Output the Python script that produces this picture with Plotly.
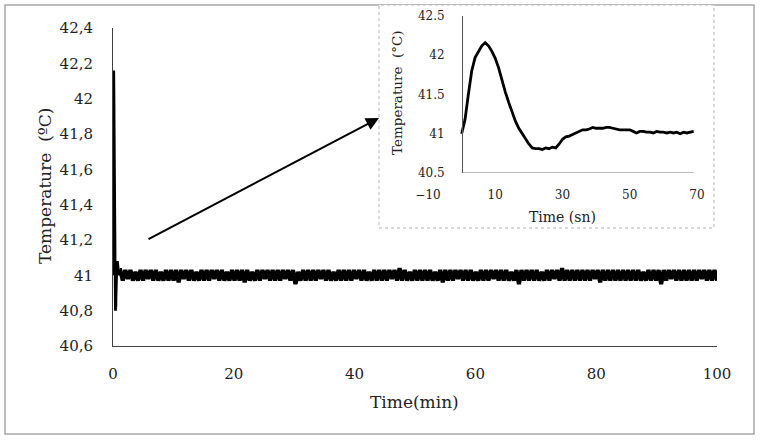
import numpy as np
import plotly.graph_objects as go

# ---------------- data ----------------
# Inset: first seconds of the run (time in s, temperature in degC)
inset_time_s = [0, 1, 2, 3, 4, 5, 6, 7, 8, 9, 10, 11, 12, 13, 14, 15, 16, 17, 18, 19,
                20, 21, 22, 23, 24, 25, 26, 27, 28, 29, 30, 31, 32, 33, 34, 35, 36, 37, 38, 39,
                40, 41, 42, 43, 44, 45, 46, 47, 48, 49, 50, 51, 52, 53, 54, 55, 56, 57, 58, 59,
                60, 61, 62, 63, 64, 65, 66, 67, 68, 69]
inset_temp = [41.00, 41.18, 41.50, 41.80, 41.97, 42.05, 42.12, 42.16, 42.12, 42.05,
              41.96, 41.84, 41.68, 41.53, 41.40, 41.28, 41.16, 41.07, 41.00, 40.93,
              40.87, 40.82, 40.81, 40.81, 40.80, 40.82, 40.81, 40.83, 40.82, 40.87,
              40.93, 40.96, 40.97, 40.99, 41.01, 41.04, 41.05, 41.05, 41.06, 41.08,
              41.07, 41.07, 41.07, 41.08, 41.08, 41.07, 41.06, 41.05, 41.05, 41.05,
              41.05, 41.03, 41.01, 41.03, 41.03, 41.02, 41.02, 41.01, 41.03, 41.02,
              41.02, 41.01, 41.02, 41.01, 41.02, 41.00, 41.02, 41.01, 41.02, 41.03]

# Main run after the first minute: steady temperature readings (degC)
steady_temp = [
    41.03, 40.97, 41.03, 40.98, 41.03, 40.97, 41.02, 40.97, 41.03, 40.97, 41.03, 40.98, 41.03, 40.97, 41.03, 40.97, 41.02, 40.97, 41.03, 40.97,
    41.03, 40.97, 41.03, 40.96, 41.03, 40.98, 41.03, 40.97, 41.03, 40.97, 41.02, 40.97, 41.03, 40.97, 41.03, 40.97, 41.03, 40.98, 41.03, 40.97,
    41.03, 40.97, 41.02, 40.97, 41.03, 40.97, 41.03, 40.97, 41.03, 40.96, 41.03, 40.97, 41.02, 40.97, 41.03, 40.97, 41.03, 40.98, 41.03, 40.97,
    41.03, 40.97, 41.03, 40.97, 41.03, 40.98, 41.03, 40.97, 41.03, 40.95, 41.02, 40.97, 41.03, 40.97, 41.03, 40.97, 41.03, 40.97, 41.03, 40.98,
    41.03, 40.97, 41.03, 40.97, 41.02, 40.97, 41.03, 40.97, 41.03, 40.97, 41.03, 40.97, 41.03, 40.98, 41.03, 40.97, 41.03, 40.97, 41.02, 40.97,
    41.03, 40.97, 41.03, 40.97, 41.03, 40.97, 41.03, 40.98, 41.03, 40.97, 41.04, 40.97, 41.03, 40.97, 41.02, 40.97, 41.03, 40.97, 41.03, 40.97,
    41.03, 40.97, 41.03, 40.97, 41.02, 40.97, 41.03, 40.96, 41.03, 40.97, 41.03, 40.97, 41.03, 40.98, 41.03, 40.97, 41.03, 40.97, 41.03, 40.97,
    41.02, 40.97, 41.03, 40.97, 41.03, 40.97, 41.03, 40.98, 41.03, 40.97, 41.03, 40.97, 41.03, 40.97, 41.02, 40.97, 41.03, 40.95, 41.03, 40.97,
    41.03, 40.97, 41.03, 40.97, 41.03, 40.97, 41.02, 40.97, 41.03, 40.97, 41.03, 40.98, 41.03, 40.97, 41.04, 40.97, 41.03, 40.97, 41.03, 40.97,
    41.03, 40.97, 41.03, 40.97, 41.03, 40.97, 41.03, 40.98, 41.03, 40.96, 41.03, 40.97, 41.03, 40.97, 41.03, 40.97, 41.03, 40.97, 41.03, 40.97,
    41.03, 40.97, 41.03, 40.97, 41.03, 40.97, 41.02, 40.97, 41.03, 40.97, 41.03, 40.97, 41.03, 40.95, 41.03, 40.97, 41.03, 40.98, 41.03, 40.97,
    41.03, 40.97, 41.03, 40.97, 41.03, 40.97, 41.03, 40.97, 41.03, 40.98, 41.03, 40.97, 41.03, 40.97, 41.03, 40.97,
]
steady_start_min = 1.2
steady_end_min = 100.0

main_x_ticks = [0, 20, 40, 60, 80, 100]
main_y_ticks = [40.6, 40.8, 41.0, 41.2, 41.4, 41.6, 41.8, 42.0, 42.2, 42.4]
main_y_ticktext = ["40,6", "40,8", "41", "41,2", "41,4", "41,6", "41,8", "42", "42,2", "42,4"]
inset_x_ticks = [-10, 10, 30, 50, 70]
inset_y_ticks = [40.5, 41.0, 41.5, 42.0, 42.5]
inset_y_ticktext = ["40.5", "41", "41.5", "42", "42.5"]

# ---------------- figure ----------------
W, H = 760, 442
def px(x):
    return x / W
def py(y):
    return 1 - y / H

spike_time = [t / 60.0 for t in inset_time_s]
steady_time = list(np.linspace(steady_start_min, steady_end_min, len(steady_temp)))

FONT = "DejaVu Serif"
TXT = "#222222"

fig = go.Figure()
fig.add_trace(go.Scatter(x=spike_time, y=inset_temp, mode="lines",
                         line=dict(color="black", width=2.8),
                         xaxis="x", yaxis="y", showlegend=False, hoverinfo="skip"))
fig.add_trace(go.Scatter(x=[spike_time[-1]] + steady_time, y=[inset_temp[-1]] + steady_temp,
                         mode="lines", line=dict(color="black", width=4.2),
                         xaxis="x", yaxis="y", showlegend=False, hoverinfo="skip"))
fig.add_trace(go.Scatter(x=inset_time_s, y=inset_temp, mode="lines",
                         line=dict(color="black", width=2.8),
                         xaxis="x2", yaxis="y2", showlegend=False, hoverinfo="skip"))

def label(text, x, y, size, angle=0):
    return dict(text=text, xref="paper", yref="paper", x=px(x), y=py(y),
                xanchor="center", yanchor="middle", showarrow=False, textangle=angle,
                font=dict(size=size, family=FONT, color=TXT))

fig.update_layout(
    width=W, height=H,
    margin=dict(l=0, r=0, t=0, b=0, autoexpand=False),
    paper_bgcolor="white", plot_bgcolor="rgba(0,0,0,0)",
    font=dict(family=FONT, color=TXT),
    xaxis=dict(domain=[px(113), px(717)], range=[0, 100], tickvals=main_x_ticks,
               showgrid=False, zeroline=False, showline=True, linecolor="#404040",
               linewidth=1, ticks="", tickfont=dict(size=15, family=FONT, color=TXT),
               ticklabelstandoff=14, anchor="y", automargin=False),
    yaxis=dict(domain=[py(346), py(28)], range=[40.6, 42.4], tickvals=main_y_ticks,
               ticktext=main_y_ticktext,
               showgrid=False, zeroline=False, showline=True, linecolor="#404040",
               linewidth=1, ticks="", tickfont=dict(size=15, family=FONT, color=TXT),
               ticklabelstandoff=16, anchor="x", automargin=False),
    xaxis2=dict(domain=[px(428), px(697)], range=[-10, 70], tickvals=inset_x_ticks,
                showgrid=False, zeroline=False, showline=False, ticks="",
                tickfont=dict(size=12, family=FONT, color=TXT),
                ticklabelstandoff=13, anchor="y2", automargin=False),
    yaxis2=dict(domain=[py(173), py(16)], range=[40.5, 42.5], tickvals=inset_y_ticks,
                ticktext=inset_y_ticktext,
                showgrid=False, zeroline=False, showline=True, linecolor="#555555",
                linewidth=1, ticks="", tickfont=dict(size=12, family=FONT, color=TXT),
                ticklabelstandoff=15, anchor="free", position=px(462), automargin=False),
    shapes=[
        # outer frame
        dict(type="rect", xref="paper", yref="paper", x0=px(5), x1=px(754), y0=py(434), y1=py(5),
             line=dict(color="#a8a8a8", width=1.5), layer="below"),
        # inset frame
        dict(type="rect", xref="paper", yref="paper", x0=px(379), x1=px(714), y0=py(228), y1=py(5),
             line=dict(color="#b5b5b5", width=1, dash="dot"), fillcolor="white", layer="below"),
        # inset x axis line
        dict(type="line", xref="x2", yref="y2", x0=0, x1=69, y0=40.5, y1=40.5,
             line=dict(color="#777777", width=1)),
    ],
    annotations=[
        label("Time(min)", 414, 402, 17),
        label("Temperature  (ºC)", 45, 186, 17, -90),
        label("Time (sn)", 562, 217, 14),
        label("Temperature  (°C)", 397, 93, 13.5, -90),
        dict(text="", xref="paper", yref="paper", x=px(379), y=py(118),
             showarrow=True, axref="pixel", ayref="pixel", ax=147 - 379, ay=240 - 118,
             arrowhead=2, arrowsize=1.3, arrowwidth=2, arrowcolor="black"),
    ],
)

fig.write_html("out.html", config={"displayModeBar": False})
